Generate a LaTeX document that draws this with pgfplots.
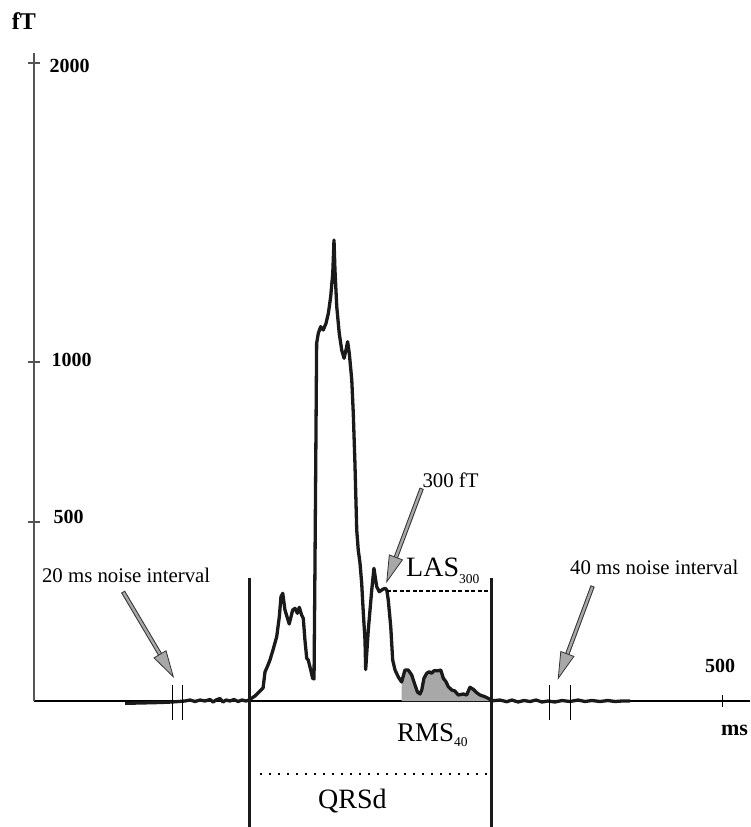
\documentclass[border=0pt]{standalone}
\usepackage{pgfplots}
\usepackage{pgfplotstable}
\pgfplotsset{compat=1.18}
\usepackage{fontspec}
\setmainfont{Liberation Serif}
\usetikzlibrary{calc,arrows.meta}
\definecolor{sig}{HTML}{1A1A1A}
\definecolor{areagray}{HTML}{A8A8A8}
\definecolor{axgray}{HTML}{555555}

\pgfplotstableread{
ms fT
66.1 -6.4
77.0 -5.6
91.5 -4.2
100.2 -2.8
109.6 0
113.3 2.8
116.9 -1.4
120.5 2.8
124.1 0
127.8 4.2
130.0 -2.8
132.1 2.8
135.0 7.0
137.2 -2.8
139.4 2.8
142.3 0
145.2 4.2
148.1 -1.4
151.0 2.8
153.9 0
156.1 2.8
160.4 14.0
164.1 27.9
166.3 36.3
167.7 81.0
169.9 100.6
171.3 114.5
173.5 142.5
176.2 179.6
178.1 235.5
179.3 291.3
180.6 300.8
182.2 254.2
185.3 215.1
187.8 254.2
189.5 258.9
191.2 245.0
192.6 261.7
194.3 240.2
195.5 231.0
196.7 170.4
198.0 119.3
199.1 114.5
200.9 86.6
202.3 63.4
203.3 61.5
204.0 385.5
205.2 1062.5
206.4 1096.0
208.1 1118.1
210.0 1107.0
212.0 1129.4
213.7 1162.9
215.4 1218.4
216.9 1296.7
217.8 1408.0
218.5 1307.7
219.8 1184.9
221.6 1096.0
223.4 1040.1
225.1 1012.4
226.5 1040.1
227.7 1067.9
228.9 1029.1
230.7 943.8
231.8 839.7
233.0 683.4
234.3 477.7
235.4 421.8
236.7 384.6
237.9 328.8
239.1 245.0
240.3 170.4
240.8 88.0
242.7 198.3
245.2 310.1
246.8 370.7
248.8 319.3
250.7 305.3
253.2 312.0
254.8 314.8
256.1 310.1
257.2 282.1
259.0 207.5
260.4 114.5
262.1 86.6
264.5 67.0
266.9 53.1
269.3 86.6
271.7 86.6
274.2 72.6
276.6 44.7
278.4 25.1
280.2 19.6
281.5 30.7
283.1 63.4
285.1 77.4
287.0 81.8
288.7 77.4
290.4 84.6
293.5 84.6
295.3 86.6
297.2 63.4
299.1 53.9
300.8 39.9
303.3 30.7
305.6 27.9
308.0 16.8
311.7 19.6
314.1 16.8
316.5 38.3
318.9 32.7
321.4 23.2
323.8 16.8
327.4 12.0
331.1 4.7
333.5 0.8
338.3 2.8
343.2 -2.0
347.0 2.8
351.4 -2.8
355.7 1.4
360.1 -1.4
364.5 2.8
368.8 -2.8
373.2 0
378.2 -2.8
383.3 1.4
389.1 -1.4
395.0 2.8
400.0 -1.4
405.1 1.4
410.9 -1.4
416.7 1.4
421.8 -1.4
426.9 0
432.7 0
}\signal

\pgfplotstableread{
ms fT
266.9 53.1
269.3 86.6
271.7 86.6
274.2 72.6
276.6 44.7
278.4 25.1
280.2 19.6
281.5 30.7
283.1 63.4
285.1 77.4
287.0 81.8
288.7 77.4
290.4 84.6
293.5 84.6
295.3 86.6
297.2 63.4
299.1 53.9
300.8 39.9
303.3 30.7
305.6 27.9
308.0 16.8
311.7 19.6
314.1 16.8
316.5 38.3
318.9 32.7
321.4 23.2
323.8 16.8
327.4 12.0
331.1 4.7
332.3 2.0
}\rmsarea

\newcommand{\garrow}[2]{%
  \coordinate (gA) at #1;
  \coordinate (gT) at #2;
  \coordinate (gB) at ($(gT)!26bp!(gA)$);
  \draw[line width=4.4bp, draw=black!80] (gA) -- ($(gT)!24bp!(gA)$);
  \draw[line width=2.4bp, draw=areagray] ($(gA)!1bp!(gT)$) -- ($(gT)!23bp!(gA)$);
  \draw[line width=0.8bp, draw=black!80, fill=areagray, line join=miter]
    (gT) -- ($(gB)!7bp!90:(gT)$) -- ($(gB)!7bp!-90:(gT)$) -- cycle;
}

\begin{document}
\begin{tikzpicture}
\path[use as bounding box] (0,0) rectangle (751bp,-827bp);
\begin{axis}[
  at={(34bp,-701bp)}, anchor=south west,
  scale only axis, width=716.25bp, height=648bp,
  xmin=0, xmax=520, ymin=0, ymax=2033.4,
  y coord trafo/.code={\pgfmathparse{min(min(0.358*(#1),19+0.32*(#1)),40+0.299*(#1))}},
  y coord inv trafo/.code={\pgfmathparse{max(max((#1)/0.358,((#1)-19)/0.32),((#1)-40)/0.299)}},
  axis lines=left, axis line style={-},
  x axis line style={black, line width=1.1bp},
  y axis line style={axgray, line width=1.6bp},
  xtick={500}, xticklabels={500},
  ytick={500,1000,2000},
  yticklabels={\raisebox{5.3bp}{\hspace*{4bp}500},\raisebox{2.4bp}{\hspace*{2bp}1000},\raisebox{-2.3bp}{2000}},
  tick align=center, major tick length=12bp,
  xtick style={black, line width=1bp},
  ytick style={axgray, line width=1.3bp},
  yticklabel style={font=\fontsize{20bp}{23bp}\selectfont\bfseries, anchor=base west, inner sep=0pt, xshift=21.5bp, yshift=-6.8bp},
  xticklabel style={font=\fontsize{20bp}{23bp}\selectfont\bfseries, anchor=center, yshift=41bp, xshift=-2.7bp},
  ylabel={fT},
  ylabel style={rotate=-90, at={(axis description cs:-0.014,1.049)}, anchor=center, font=\fontsize{24bp}{28bp}\selectfont\bfseries},
  xlabel={ms},
  xlabel style={at={(axis description cs:0.978,-0.045)}, anchor=center, font=\fontsize{22bp}{26bp}\selectfont\bfseries},
  clip=false,
]
\addplot[fill=areagray, draw=none] table {\rmsarea} \closedcycle;

\draw[sig, line width=3bp] (axis cs:156.3,342.7) -- (axis cs:156.3,-360);
\draw[sig, line width=3bp] (axis cs:332.3,342.7) -- (axis cs:332.3,-360);

\addplot[sig, line width=3.3bp, line join=round, mark=none] table {\signal};

\draw[black, line width=1.1bp, dash pattern=on 4bp off 2.5bp] (axis cs:256.1,307.3) -- (axis cs:331.6,307.3);
\draw[black, line width=1.8bp, dash pattern=on 1.8bp off 7.2bp] (axis cs:164.1,-204.7) -- (axis cs:328.7,-204.7);

\draw[black, line width=1.1bp] (axis cs:100.6,44.7) -- (axis cs:100.6,-53.1);
\draw[black, line width=1.1bp] (axis cs:107.8,44.7) -- (axis cs:107.8,-53.1);
\draw[black, line width=1.1bp] (axis cs:374.1,44.7) -- (axis cs:374.1,-53.1);
\draw[black, line width=1.1bp] (axis cs:389.6,44.7) -- (axis cs:389.6,-53.1);

\garrow{(axis cs:64.6,305.3)}{(axis cs:101.1,67.9)}
\garrow{(axis cs:405.6,321.2)}{(axis cs:380.6,63.4)}
\garrow{(axis cs:281.5,605.3)}{(axis cs:256.1,333.2)}

\node[anchor=base, font=\fontsize{20.8bp}{24bp}\selectfont] at (axis cs:66.9,332.4) {20 ms noise interval};
\node[anchor=base, font=\fontsize{20.8bp}{24bp}\selectfont] at (axis cs:450.3,352.0) {40 ms noise interval};
\node[anchor=base, font=\fontsize{20.8bp}{24bp}\selectfont] at (axis cs:302.4,608.4) {300 fT};
\node[anchor=base west, inner sep=0pt, font=\fontsize{28bp}{32bp}\selectfont] at (axis cs:270.1,347.2) {LAS\raisebox{-6.5bp}{\fontsize{13.5bp}{15bp}\selectfont 300}};
\node[anchor=base west, inner sep=0pt, font=\fontsize{27bp}{31bp}\selectfont] at (axis cs:263.5,-113.7) {RMS\raisebox{-5bp}{\fontsize{13.5bp}{15bp}\selectfont 40}};
\node[anchor=base west, inner sep=0pt, font=\fontsize{28bp}{32bp}\selectfont] at (axis cs:206.2,-299.7) {QRSd};
\end{axis}
\end{tikzpicture}
\end{document}
